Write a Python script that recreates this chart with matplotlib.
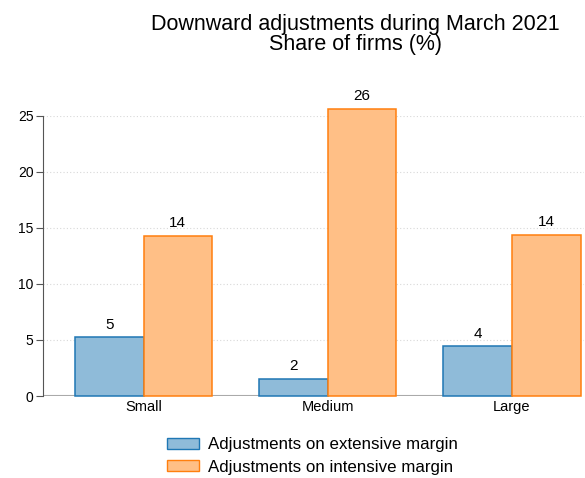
import matplotlib
matplotlib.use("Agg")
from matplotlib import pyplot as plt
from matplotlib.patches import Patch
import numpy as np

plt.rcParams['font.family'] = ['Liberation Sans', 'DejaVu Sans']

# share of firms (%) by size class
categories = ["Small", "Medium", "Large"]
extensive = [5.24, 1.52, 4.43]
intensive = [14.29, 25.6, 14.35]
series_names = ["Adjustments on extensive margin", "Adjustments on intensive margin"]
yticks = [0, 5, 10, 15, 20, 25]

blue_fill, blue_edge = "#8fbbd9", "#1f77b4"
orange_fill, orange_edge = "#ffbf86", "#ff7f0e"


def draw_bars(ax, x, values, offset, width, fill, edge):
	bars = ax.bar(x + offset, values, width, color=fill, edgecolor=edge,
		linewidth=1.1, clip_on=False, zorder=3)
	for b, v in zip(bars, values):
		ax.text(b.get_x() + b.get_width() / 2, v + 0.5, f"{v:.0f}",
			ha="center", va="bottom", fontsize=11, clip_on=False)
	return bars


def main():
	fig = plt.figure(figsize=(5.85, 4.78), dpi=100)
	ax = fig.add_axes([0.074, 0.1715, 0.924, 0.5865])

	x = np.arange(len(categories))
	w = 0.373
	draw_bars(ax, x, extensive, -w / 2, w, blue_fill, blue_edge)
	draw_bars(ax, x, intensive, w / 2, w, orange_fill, orange_edge)

	ax.set_xlim(-0.544, 2.39)
	ax.set_ylim(0, 25)
	ax.set_yticks(yticks)
	ax.set_xticks(x)
	ax.set_xticklabels(categories, fontsize=10.5)
	ax.tick_params(axis="y", labelsize=10, length=5, color="#555555", pad=2)
	ax.tick_params(axis="x", length=0, pad=3)

	for s in ["top", "right", "bottom"]:
		ax.spines[s].set_visible(False)
	ax.spines["left"].set_color("#555555")
	ax.yaxis.grid(True, linestyle=(0, (1, 2)), color="#d8d8d8", linewidth=0.8)
	ax.set_axisbelow(True)
	ax.axhline(0, xmin=0, xmax=0.931, color="#aaaaaa", linewidth=1.5, zorder=2)

	fig.text(0.607, 1 - 30 / 478, "Downward adjustments during March 2021",
		ha="center", va="baseline", fontsize=15.5)
	fig.text(0.607, 1 - 50 / 478, "Share of firms (%)",
		ha="center", va="baseline", fontsize=15.5)

	handles = [Patch(facecolor=blue_fill, edgecolor=blue_edge),
		Patch(facecolor=orange_fill, edgecolor=orange_edge)]
	fig.legend(handles, series_names, loc="center left",
		bbox_to_anchor=(0.285, 1 - 456 / 478), frameon=False, fontsize=12.2,
		handlelength=1.9, handleheight=0.55, handletextpad=0.55, labelspacing=0.42,
		borderpad=0, borderaxespad=0)

	fig.savefig("out.png", dpi=100)


if __name__ == "__main__":
	main()
